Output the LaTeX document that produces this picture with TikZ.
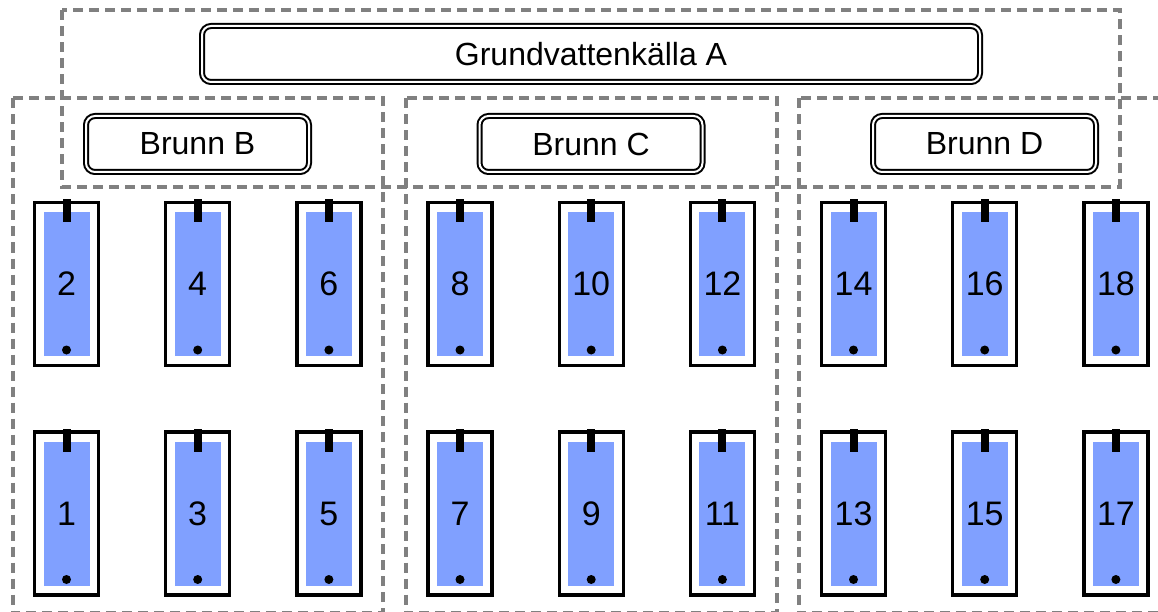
\documentclass[tikz,border=0pt]{standalone}
\usepackage{fontspec}
\setmainfont{Liberation Sans}
\definecolor{dashgray}{RGB}{128,128,128}
\definecolor{waterblue}{RGB}{128,160,255}
\begin{document}
\begin{tikzpicture}[x=1pt,y=-1pt,
  grp/.style={draw=dashgray, line width=4pt, dash pattern=on 10pt off 6pt},
  titlebox/.style={draw, double, double distance=2pt, line width=2pt, rounded corners=9pt,
    font=\fontsize{32}{38}\selectfont, inner sep=0pt, minimum height=56pt, fill=white},
  cellbox/.style={draw, line width=3.2pt, minimum width=64pt, minimum height=163pt, inner sep=0pt, fill=white},
  water/.style={fill=waterblue, minimum width=46pt, minimum height=144pt, inner sep=0pt,
    font=\fontsize{34}{40}\selectfont},
  tab/.style={fill=black},
  dot/.style={fill=black}]
\useasboundingbox (0,0) rectangle (1158,612);
% dashed groups
\draw[grp] (61.5,10.5) rectangle (1119.5,187);
\draw[grp] (12.5,98.5) rectangle (383,613);
\draw[grp] (405.5,98.5) rectangle (776.5,613);
\draw[grp] (798.5,98.5) rectangle (1170,613);
% titles
\node[titlebox, minimum width=778pt] (A) at (591,54) {Grundvattenkälla A};
\node[titlebox, minimum width=223pt] (B) at (197.5,144) {Brunn B};
\node[titlebox, minimum width=223pt] (C) at (591,144) {Brunn C};
\node[titlebox, minimum width=223pt] (D) at (984.5,144) {Brunn D};
% cells
\foreach \g in {0,1,2}{
  \foreach \k in {0,1,2}{
    \pgfmathsetmacro{\cx}{66.5+393.5*\g+131.2*\k}
    \pgfmathtruncatemacro{\nt}{2+6*\g+2*\k}
    \pgfmathtruncatemacro{\nb}{1+6*\g+2*\k}
    \foreach \n/\cy in {\nt/284,\nb/513.5}{
      \node[cellbox] (c\n) at (\cx,\cy) {};
      \node[water] (w\n) at (\cx,\cy) {\n};
      \fill[tab] ([xshift=-4pt,yshift=1.6pt]c\n.north) rectangle ([xshift=4pt,yshift=-21.5pt]c\n.north);
      \fill[dot] ([yshift=-66pt]c\n.center) circle (4.5pt);
    }
  }
}
\end{tikzpicture}
\end{document}
